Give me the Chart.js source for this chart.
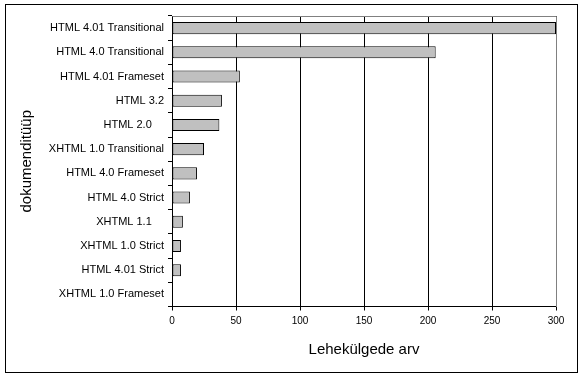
<!DOCTYPE html>
<html>
<head>
<meta charset="utf-8">
<script src="https://cdn.jsdelivr.net/npm/chart.js@4"></script>
<style>
  html, body { margin: 0; padding: 0; background: #fff; }
  #wrap { width: 584px; height: 378px; }
</style>
</head>
<body>
<div id="wrap"><canvas id="chart" width="584" height="378"></canvas></div>
<script>
// Data
const categories = [
  "HTML 4.01 Transitional",
  "HTML 4.0 Transitional",
  "HTML 4.01 Frameset",
  "HTML 3.2",
  "HTML 2.0    ",
  "XHTML 1.0 Transitional",
  "HTML 4.0 Frameset",
  "HTML 4.0 Strict",
  "XHTML 1.1    ",
  "XHTML 1.0 Strict",
  "HTML 4.01 Strict",
  "XHTML 1.0 Frameset"
];
const pageCounts = [300, 206, 53, 39, 37, 25, 19.5, 14, 8.5, 7, 7, 0];
const xTicks = [0, 50, 100, 150, 200, 250, 300];

const FONT = "'Liberation Sans', Arial, sans-serif";

// plot area frame (gray top/right) + outer border
const framePlugin = {
  id: "frame",
  beforeDatasetsDraw(chart) {
    const { ctx, chartArea: a } = chart;
    ctx.save();
    ctx.strokeStyle = "#808080";
    ctx.lineWidth = 1;
    ctx.beginPath();
    ctx.moveTo(Math.round(a.left) + 0.5, Math.round(a.top) + 0.5);
    ctx.lineTo(Math.round(a.right) + 0.5, Math.round(a.top) + 0.5);
    ctx.lineTo(Math.round(a.right) + 0.5, Math.round(a.bottom));
    ctx.stroke();
    ctx.restore();
  },
  afterDraw(chart) {
    const { ctx } = chart;
    ctx.save();
    ctx.strokeStyle = "#000";
    ctx.lineWidth = 1;
    ctx.strokeRect(5.5, 4.5, 572, 368);
    ctx.restore();
  }
};

new Chart(document.getElementById("chart"), {
  type: "bar",
  data: {
    labels: categories,
    datasets: [{
      data: pageCounts,
      backgroundColor: "#c0c0c0",
      borderColor: "#000",
      borderWidth: 1,
      borderSkipped: false,
      barPercentage: 0.5,
      categoryPercentage: 1
    }]
  },
  options: {
    indexAxis: "y",
    responsive: false,
    animation: false,
    layout: { padding: { left: 6, top: 16, right: 28, bottom: 6 } },
    plugins: { legend: { display: false }, tooltip: { enabled: false } },
    scales: {
      x: {
        min: 0,
        max: 300,
        afterBuildTicks: (scale) => { scale.ticks = xTicks.map((v) => ({ value: v })); },
        afterFit: (scale) => { scale.height = 65.5; },
        grid: { color: "#000", lineWidth: 1, tickLength: 4, drawTicks: true },
        border: { display: true, color: "#000", width: 1 },
        ticks: { color: "#000", padding: 5, maxRotation: 0, font: { family: FONT, size: 10 } },
        title: {
          display: true,
          text: "Lehekülgede arv",
          color: "#000",
          font: { family: FONT, size: 15 },
          padding: { top: 0, bottom: 13 }
        }
      },
      y: {
        afterFit: (scale) => { scale.width = 166; },
        grid: { drawOnChartArea: false, drawTicks: true, tickLength: 4, color: "#000", offset: true },
        border: { display: true, color: "#000", width: 1 },
        ticks: { color: "#000", padding: 4, autoSkip: false, font: { family: FONT, size: 11 } },
        title: {
          display: true,
          text: "dokumenditüüp",
          color: "#000",
          font: { family: FONT, size: 15 },
          padding: { top: 12, bottom: 0 }
        }
      }
    }
  },
  plugins: [framePlugin]
});
</script>
</body>
</html>
